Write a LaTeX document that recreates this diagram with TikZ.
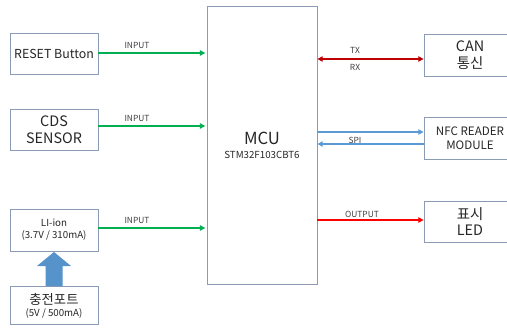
\documentclass[tikz,border=0pt]{standalone}
\usepackage{fontspec}
\setmainfont{Noto Sans CJK KR}
\usetikzlibrary{arrows.meta}
\definecolor{boxline}{RGB}{140,155,180}
\definecolor{ingreen}{RGB}{0,176,80}
\definecolor{canred}{RGB}{192,0,0}
\definecolor{outred}{RGB}{255,0,0}
\definecolor{spiblue}{RGB}{91,155,213}
\tikzset{
  blk/.style={draw=boxline, line width=0.6pt, fill=white, align=center, inner sep=0pt, text=black!85},
  lbl/.style={font=\fontsize{6.3}{7}\selectfont, text=black!75, inner sep=0pt},
  garr/.style={draw=ingreen, line width=1.5pt, -{Triangle[length=4pt,width=4pt]}},
  carr/.style={draw=canred, line width=1.5pt, {Triangle[length=4pt,width=4pt]}-{Triangle[length=4pt,width=4pt]}},
  oarr/.style={draw=outred, line width=1.5pt, -{Triangle[length=4pt,width=4pt]}},
  sarr/.style={draw=spiblue, line width=1.5pt, -{Triangle[length=4pt,width=4pt]}},
}
\begin{document}
\begin{tikzpicture}[x=0.75pt,y=-0.75pt]
\useasboundingbox (0,0) rectangle (507,328);
\fill[white] (0,0) rectangle (507,328);
% boxes
\node[blk, minimum width=66pt, minimum height=30.75pt, font=\fontsize{9.3}{11}\selectfont] (reset) at (54,53.5) {RESET Button};
\node[blk, minimum width=66pt, minimum height=30.75pt, font=\fontsize{10.8}{12.5}\selectfont] (cds) at (54,129.5) {CDS\\SENSOR};
\node[blk, minimum width=66pt, minimum height=31.5pt, font=\fontsize{7.3}{9}\selectfont] (liion) at (54,230) {LI-ion\\(3.7V / 310mA)};
\node[blk, minimum width=66pt, minimum height=28pt, font=\fontsize{7.3}{9}\selectfont] (port) at (54,305.5) {{\fontsize{10}{12}\selectfont 충전포트}\\(5V / 500mA)};
\node[blk, minimum width=82.5pt, minimum height=208.5pt] (mcu) at (262,145) {};
\node[font=\fontsize{12.5}{13}\selectfont, text=black!85, inner sep=0pt] (mcut) at (262,138) {MCU};
\node[font=\fontsize{7.3}{8}\selectfont, text=black!85, inner sep=0pt] (stm) at (262,155) {STM32F103CBT6};
\node[blk, minimum width=69pt, minimum height=31.5pt, font=\fontsize{10.8}{12.5}\selectfont] (can) at (470,55) {CAN\\통신};
\node[blk, minimum width=69pt, minimum height=31.5pt, font=\fontsize{8.7}{10.5}\selectfont] (nfc) at (470,138) {NFC READER\\MODULE};
\node[blk, minimum width=69pt, minimum height=30.75pt, font=\fontsize{10.8}{12.5}\selectfont] (led) at (470,221.5) {표시\\LED};
% helper coordinates
\coordinate (y1) at (0,53);
\coordinate (y2) at (0,126);
\coordinate (y3) at (0,228);
\coordinate (yc) at (0,59);
\coordinate (ys1) at (0,132);
\coordinate (ys2) at (0,144);
\coordinate (yo) at (0,220);
% connectors
\draw[garr] (reset.east |- y1) -- ([xshift=-1pt]mcu.west |- y1);
\draw[garr] (cds.east |- y2) -- ([xshift=-1pt]mcu.west |- y2);
\draw[garr] (liion.east |- y3) -- ([xshift=-1pt]mcu.west |- y3);
\node[lbl] (l1) at (137,45.5) {INPUT};
\node[lbl] (l2) at (137,118.5) {INPUT};
\node[lbl] (l3) at (137,220.5) {INPUT};
\draw[carr] (mcu.east |- yc) -- (can.west |- yc);
\node[lbl] (tx) at (355,50) {TX};
\node[lbl] (rx) at (355,67) {RX};
\draw[sarr] (mcu.east |- ys1) -- (nfc.west |- ys1);
\draw[sarr] (nfc.west |- ys2) -- (mcu.east |- ys2);
\node[lbl] (spi) at (355,140) {SPI};
\draw[oarr] (mcu.east |- yo) -- (led.west |- yo);
\node[lbl] (out) at (362,214) {OUTPUT};
% block arrow from port to li-ion
\fill[spiblue!95!black] (54,252) -- (71,266) -- (62.5,266) -- (62.5,286) -- (45.5,286) -- (45.5,266) -- (37,266) -- cycle;
\end{tikzpicture}
\end{document}
